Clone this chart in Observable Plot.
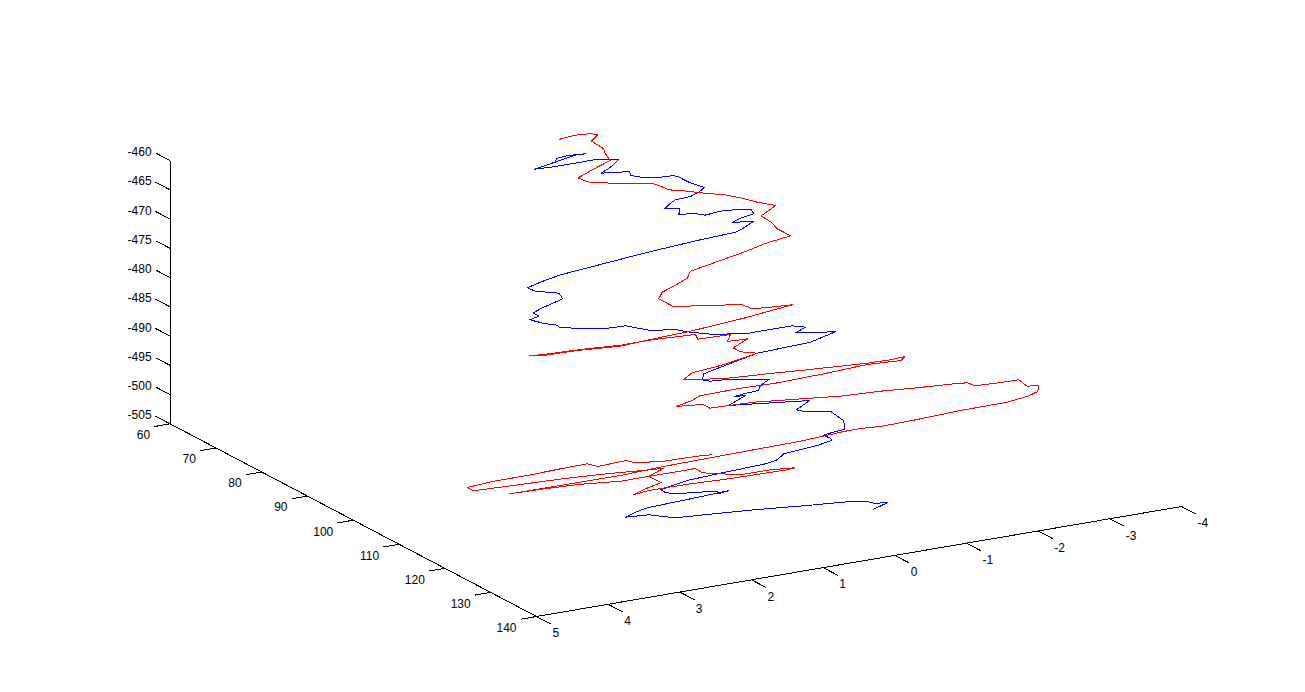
<!DOCTYPE html>
<html><head><meta charset="utf-8">
<script src="https://cdn.jsdelivr.net/npm/d3@7"></script>
<script src="https://cdn.jsdelivr.net/npm/@observablehq/plot@0.6"></script>
<style>html,body{margin:0;padding:0;background:#fff}svg{display:block}</style>
</head><body><div id="chart"></div>
<script>
// Axis tick values
const xTicks = [5,4,3,2,1,0,-1,-2,-3,-4];
const yTicks = [60,70,80,90,100,110,120,130,140];
const zTicks = [-460,-465,-470,-475,-480,-485,-490,-495,-500,-505];

// Series in projected view coordinates
const redU = [559.3,569,581,591.7,597.3,590.7,596.7,602.7,605,609.7,596.7,577.7,583.3,591.7,622.7,653.3,663.3,668.3,686.7,700,724,740,756.7,775.3,760.7,770.7,776.7,790.3,766.7,743.3,690,686.7,673.3,661.7,658.3,673.3,708.3,741.7,751.7,770,791.7,743.3,690,653.3,620,576.7,543.3,529,543.3,580,620,653.3,695,697.3,730,726.7,747.3,732.7,740,756.7,720,691.7,682.7,701,731.7,766.7,800,836.7,866.7,890,904.3,900.7,866.7,823.3,775,740,699.3,691.7,675.7,696.7,703.3,709.3,728.3,753.3,810,840,880,916.7,953.3,966.7,975,1000,1018.3,1026.7,1038.3,1037.3,1026.7,1006.7,960,916.7,880,860,843.3,800,733,663,620,560,509.3,543,577,620,695,701.7,740,770,794,786.7,723.3,690,648,632.7,645,660.7,648.3,663.3,648,620,606.7,570,472.7,466.7,493.3,526.7,560,586.7,597.3,606.7,625.7,635,663.3,696.7,710.7];
const redV = [138.7,136,133.7,133.3,134.3,140.7,144,148,153.3,160,166.7,177.3,180,182.3,182.7,183.3,187,189.3,190.7,192.3,194.3,197.3,201.7,205,215.3,221.7,228.3,235.3,242.3,251.7,270.7,277.7,285.7,291.7,298.3,306.3,304.7,304.3,308.3,306.7,304.3,317.7,330.7,338.3,345.7,350,355,355.3,354,349,344.7,339,334,338.7,334,341,338.3,347.3,351.3,352.7,365,372.3,379.3,379,377.3,373.3,370,366,362.7,359.3,356,360,364,373.3,382.7,387.7,395.3,400,406,404.3,404.3,407.7,405,401.7,397.7,395.7,390.7,387.3,383.3,382.3,385.3,382,379.3,385.7,385,391,396,401.7,410,419,426,428,431,440.7,453,466,475,485,493.3,488.5,484,480.7,468,472.3,474.3,469.3,467.3,469.3,479,483.3,490,494.3,488.3,482,475.7,467.7,469.5,472,473.3,477.3,490.3,487,480.7,475,468.3,463.3,466,464,460,462.3,460.7,455.7,454.3];
const blueU = [555,556.7,568,585,575,534.3,550,576.7,593.3,617.7,610,600.7,615,629.3,630,645,655,671.7,676.7,688.3,704,698.3,690,675,670,664.3,679.3,678.3,693.3,704.3,720,733.3,750.7,753.3,740,731.7,753.3,741.7,735,696.7,643.3,600,560,541.7,526.7,535,558.3,562.3,543.3,532.7,538.3,529.3,545,555,560,580,605,625,643.3,651.7,673.3,686.7,710,745,763.3,791.7,805,795,835,810,756.7,713.3,703.3,701.7,710,730,768.7,760,757.7,743.3,734,745,728.3,743.3,793.3,809.3,796,805,830.7,843.3,844,831.7,822.7,830,831,816.7,783.3,776.7,765,720,686.7,660,665,675,698.3,717.3,717.3,727.7,686.7,646.7,635,625,648.3,663.3,675,706.7,753.3,806.7,850,865,873.3,886.7,873.3];
const blueV = [160.7,157.7,155,153.3,154.5,168.7,166.7,162.3,159.3,159.3,166.7,172.7,171.7,171.3,175,177.3,177.3,175.3,175.7,181.7,187,191.7,196,199.3,202.7,208.3,208.3,214.3,212.7,214.7,210.7,209.3,209.3,213.3,217.7,222,220.7,228.3,231.7,240,252.7,264,274.3,281,287.3,290.7,292.7,298.3,306.7,312.3,315.7,319.3,323.3,324,327.3,327.7,328,325.3,328.7,330.3,328.7,331.3,333.7,333.3,330,325.3,326.7,332.3,331.3,341.7,352.7,369.3,373.3,379.3,380.7,378.7,378.7,385,390,393.3,396,395,405,404,401,400,409.3,411.3,411.3,420.3,428.8,432,434.7,437.7,440,445,453.3,459.3,463.3,472.7,480,489.3,492,493.3,491.7,490.7,493.3,490.3,499,507.3,511.7,516.7,514.3,516,517.3,514,509.3,505,501,500.7,502.7,502.3,508.7];

// Projection of the 3-D axes box onto the view
const project = ([x, y, z]) => [
  536 - (x - 5) * 71.67 + (y - 140) * 4.58,
  616 + (x - 5) * 12.22 + (y - 140) * 2.408 - (z + 505) * 5.85
];
const pts = (U, V) => U.map((u, i) => ({u, v: V[i]}));
const seg = (a, b) => { const p = project(a), q = project(b); return {x1:p[0], y1:p[1], x2:q[0], y2:q[1]}; };
const lab = (t, c) => { const p = project(c); return {u:p[0], v:p[1], t:String(t)}; };

const axisLines = [
  seg([5,140,-505],[-4,140,-505]),
  seg([5,60,-505],[5,140,-505]),
  seg([5,60,-505],[5,60,-460])
];
const tickLines = [
  ...xTicks.map(x => seg([x,140,-505],[x,143.2,-505])),
  ...yTicks.map(y => seg([5,y,-505],[5.22,y,-505])),
  ...zTicks.map(z => seg([5,60,z],[5,56.8,z]))
];
const xLabels = xTicks.map(x => lab(x,[x,140,-505]));
const yLabels = yTicks.map(y => lab(y,[5,y,-505]));
const zLabels = zTicks.map(z => lab(z,[5,60,z]));

const crisp = {shapeRendering:"crispEdges"};
const linkOpts = {x1:"x1",y1:"y1",x2:"x2",y2:"y2",stroke:"#000",strokeWidth:1,...crisp};
const textOpts = {x:"u",y:"v",text:"t",fill:"#000",fontSize:12};

const chart = Plot.plot({
  width:1305, height:692, margin:0,
  style:{fontFamily:"'Liberation Sans',Arial,sans-serif",background:"#fff"},
  x:{domain:[0,1305],range:[0,1305],axis:null},
  y:{domain:[0,692],range:[0,692],axis:null},
  marks:[
    Plot.link(axisLines,{...linkOpts}),
    Plot.link(tickLines,{...linkOpts}),
    Plot.text(xLabels,{...textOpts,textAnchor:"start",dx:16,dy:17}),
    Plot.text(yLabels,{...textOpts,textAnchor:"end",dx:-20,dy:11.5}),
    Plot.text(zLabels,{...textOpts,textAnchor:"end",dx:-18.5,dy:-8.3}),
    Plot.line(pts(blueU,blueV),{x:"u",y:"v",stroke:"#0000ff",strokeWidth:1,...crisp}),
    Plot.line(pts(redU,redV),{x:"u",y:"v",stroke:"#ff0000",strokeWidth:1,...crisp})
  ]
});
document.getElementById("chart").append(chart);
</script></body></html>
